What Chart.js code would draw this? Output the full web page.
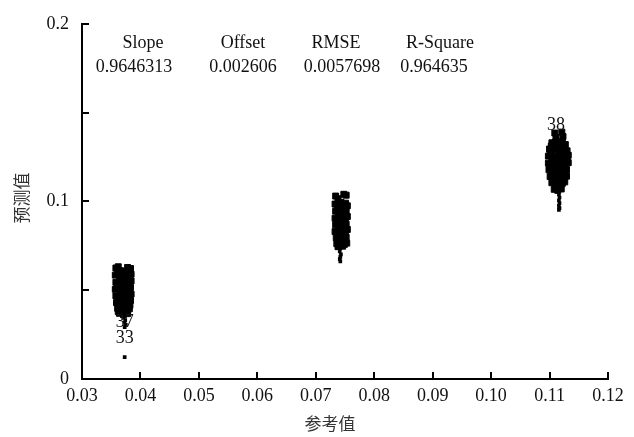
<!DOCTYPE html>
<html><head><meta charset="utf-8">
<script src="https://cdn.jsdelivr.net/npm/chart.js@4"></script>
<style>html,body{margin:0;padding:0;background:#fff}#wrap{width:634px;height:437px}</style>
</head><body><div id="wrap"><canvas id="c" width="634" height="437"></canvas></div>
<script>
// ---- data ----
const xTickValues = [0.03,0.04,0.05,0.06,0.07,0.08,0.09,0.10,0.11,0.12];
const yTickLabels = ['0','0.1','0.2'];
const xTitle = '参考值';
const yTitle = '预测值';
const statNames  = ['Slope','Offset','RMSE','R-Square'];
const statValues = ['0.9646313','0.002606','0.0057698','0.964635'];

// cluster near reference 0.037
const c1x = [0.0358,0.0362,0.0366,0.0372,0.0378,0.0383,
 0.0357,0.0364,0.0371,0.0377,0.0384,
 0.0358,0.0365,0.0372,0.0379,0.0384,
 0.0357,0.0363,0.0370,0.0377,0.0383,
 0.0358,0.0365,0.0372,0.0379,0.0384,
 0.0359,0.0366,0.0373,0.0380,0.0383,
 0.0361,0.0368,0.0375,0.0381,
 0.0364,0.0371,0.0378,
 0.0361,0.0368,0.0375,0.0381,
 0.0360,0.0367,0.0374,0.0381,
 0.0361,0.0369,0.0376,0.0382,
 0.0362,0.0370,0.0377];
const c1y = [0.0625,0.0632,0.0610,0.0598,0.0628,0.0622,
 0.0585,0.0578,0.0582,0.0575,0.0590,
 0.0545,0.0540,0.0548,0.0538,0.0552,
 0.0505,0.0512,0.0500,0.0508,0.0515,
 0.0468,0.0475,0.0465,0.0470,0.0478,
 0.0430,0.0438,0.0428,0.0435,0.0442,
 0.0398,0.0392,0.0400,0.0395,
 0.0370,0.0362,0.0368,
 0.0602,0.0560,0.0605,0.0565,
 0.0525,0.0488,0.0522,0.0490,
 0.0450,0.0412,0.0452,0.0415,
 0.0380,0.0415,0.0382];
// low tail of the 0.037 group and the isolated sample
const t1x = [0.0371,0.0374,0.0373,0.0375,0.0373,0.0373];
const t1y = [0.0345,0.0332,0.0318,0.0305,0.0292,0.0123];
// cluster near reference 0.0742
const c2x = [0.0734,0.0738,0.0743,0.0748,0.0752,
 0.0733,0.0739,0.0745,0.0751,0.0754,
 0.0734,0.0740,0.0746,0.0752,
 0.0733,0.0739,0.0745,0.0751,0.0754,
 0.0734,0.0740,0.0746,0.0752,
 0.0733,0.0739,0.0745,0.0751,0.0754,
 0.0735,0.0741,0.0747,0.0752,
 0.0736,0.0742,0.0749,0.0753,
 0.0737,0.0743,0.0749,0.0737,0.0743,0.0749,0.0737,0.0743,0.0749,0.0738,0.0746];
const c2y = [0.1030,0.1015,0.0995,0.1040,0.1035,
 0.0985,0.0978,0.0982,0.0990,0.0975,
 0.0945,0.0950,0.0940,0.0948,
 0.0905,0.0912,0.0900,0.0908,0.0915,
 0.0868,0.0875,0.0865,0.0872,
 0.0830,0.0838,0.0828,0.0835,0.0842,
 0.0795,0.0800,0.0792,0.0798,
 0.0762,0.0768,0.0758,0.0765,
 0.0962,0.0925,0.0960,0.0888,0.0850,0.0890,0.0815,0.0780,0.0812,0.0745,0.0748];
const t2x = [0.0742,0.0741,0.0743,0.0742,0.0741,0.0742];
const t2y = [0.0735,0.0718,0.0702,0.0688,0.0675,0.0662];
// cluster near reference 0.1115
const c3x = [0.1109,0.1111,0.1121,0.1123,
 0.1104,0.1110,0.1116,0.1122,0.1127,
 0.1100,0.1106,0.1112,0.1118,0.1124,0.1130,
 0.1098,0.1104,0.1110,0.1116,0.1122,0.1128,0.1132,
 0.1098,0.1104,0.1110,0.1116,0.1122,0.1128,0.1132,
 0.1099,0.1105,0.1111,0.1117,0.1123,0.1129,
 0.1101,0.1107,0.1113,0.1119,0.1125,0.1129,
 0.1104,0.1110,0.1116,0.1122,0.1126,
 0.1108,0.1114,0.1120,
 0.1103,0.1113,0.1125,0.1101,0.1108,0.1120,0.1130,0.1102,0.1114,0.1126,0.1105,0.1118,0.1128,0.1109,0.1121];
const c3y = [0.1385,0.1360,0.1390,0.1365,
 0.1330,0.1335,0.1325,0.1338,0.1320,
 0.1295,0.1300,0.1290,0.1298,0.1292,0.1285,
 0.1255,0.1262,0.1250,0.1258,0.1265,0.1252,0.1260,
 0.1215,0.1222,0.1212,0.1220,0.1210,0.1225,0.1218,
 0.1178,0.1185,0.1175,0.1182,0.1172,0.1180,
 0.1140,0.1148,0.1138,0.1145,0.1135,0.1142,
 0.1105,0.1100,0.1108,0.1102,0.1110,
 0.1068,0.1062,0.1070,
 0.1312,0.1315,0.1308,0.1275,0.1238,0.1240,0.1238,0.1198,0.1200,0.1196,0.1160,0.1162,0.1160,0.1122,0.1125];
const t3x = [0.1116,0.1117,0.1116,0.1117,0.1116,0.1117,0.1116];
const t3y = [0.1040,0.1022,0.1005,0.0990,0.0975,0.0962,0.0952];
// sample labels
const sampleLabels = ['37','33','38'];
const sampleLabelX = [0.0373,0.0373,0.1111];
const sampleLabelY = [0.0318,0.0228,0.1426];

// ---- chart ----
const SERIF = '"Liberation Serif","DejaVu Serif",serif';
const CJK = '"Noto Sans CJK SC",sans-serif';
const toPts = (xs, ys) => xs.map((x, i) => ({x, y: ys[i]}));
const ptStyle = {pointStyle:'rect', pointRadius:4.2, pointBackgroundColor:'#000', pointBorderColor:'#000', pointBorderWidth:1, showLine:false};
const tailStyle = Object.assign({}, ptStyle, {pointRadius:2.6, pointBorderWidth:0});

const decor = {
  id:'decor',
  afterDraw(chart){
    const ctx = chart.ctx, a = chart.chartArea;
    const xs = chart.scales.x, ys = chart.scales.y;
    ctx.save();
    ctx.strokeStyle = '#000'; ctx.lineWidth = 2;
    // inward tick marks
    ctx.beginPath();
    xTickValues.forEach(v => { const p = Math.round(xs.getPixelForValue(v)); ctx.moveTo(p, a.bottom); ctx.lineTo(p, a.bottom - 7); });
    [0.05,0.1,0.15,0.2].forEach(v => { const p = Math.round(ys.getPixelForValue(v)); ctx.moveTo(a.left, p); ctx.lineTo(a.left + 7, p); });
    ctx.stroke();
    // stats
    ctx.fillStyle = '#111'; ctx.font = '18px ' + SERIF; ctx.textAlign = 'center'; ctx.textBaseline = 'middle';
    const headX = [143,243,336,440], valX = [134,243,342,434];
    statNames.forEach((s,i) => ctx.fillText(s, headX[i], 43));
    statValues.forEach((s,i) => ctx.fillText(s, valX[i], 67));
    // sample labels
    sampleLabels.forEach((s,i) => ctx.fillText(s, xs.getPixelForValue(sampleLabelX[i]), ys.getPixelForValue(sampleLabelY[i])));
    // axis titles
    ctx.fillStyle = '#333'; ctx.font = '17px ' + CJK;
    ctx.fillText(xTitle, 330, 424);
    ctx.translate(22, 198); ctx.rotate(-Math.PI/2); ctx.fillText(yTitle, 0, 0);
    ctx.restore();
  }
};

new Chart(document.getElementById('c'), {
  type:'scatter',
  data:{datasets:[
    Object.assign({label:'c1', data:toPts(c1x,c1y)}, ptStyle),
    Object.assign({label:'t1', data:toPts(t1x,t1y)}, tailStyle),
    Object.assign({label:'c2', data:toPts(c2x,c2y)}, ptStyle),
    Object.assign({label:'t2', data:toPts(t2x,t2y)}, tailStyle),
    Object.assign({label:'c3', data:toPts(c3x,c3y)}, ptStyle),
    Object.assign({label:'t3', data:toPts(t3x,t3y)}, tailStyle)
  ]},
  options:{
    responsive:false, animation:false, devicePixelRatio:1,
    layout:{padding:{top:20,right:26,left:0,bottom:0}},
    plugins:{legend:{display:false}, tooltip:{enabled:false}},
    scales:{
      x:{type:'linear', min:0.03, max:0.12,
        afterBuildTicks(s){ s.ticks = xTickValues.map(v => ({value:v})); },
        afterFit(s){ s.height = 58; },
        grid:{display:false, drawTicks:false},
        border:{display:true, color:'#000', width:2},
        ticks:{padding:6, color:'#111', font:{family:SERIF, size:18}, maxRotation:0, autoSkip:false,
          callback:(v) => Number(v).toFixed(2)}
      },
      y:{type:'linear', min:0, max:0.2,
        afterBuildTicks(s){ s.ticks = [0,0.1,0.2].map(v => ({value:v})); },
        afterFit(s){ s.width = 82; },
        grid:{display:false, drawTicks:false},
        border:{display:true, color:'#000', width:2},
        ticks:{padding:13, color:'#111', font:{family:SERIF, size:18},
          callback:(v, i) => yTickLabels[i]}
      }
    }
  },
  plugins:[decor]
});
</script></body></html>
